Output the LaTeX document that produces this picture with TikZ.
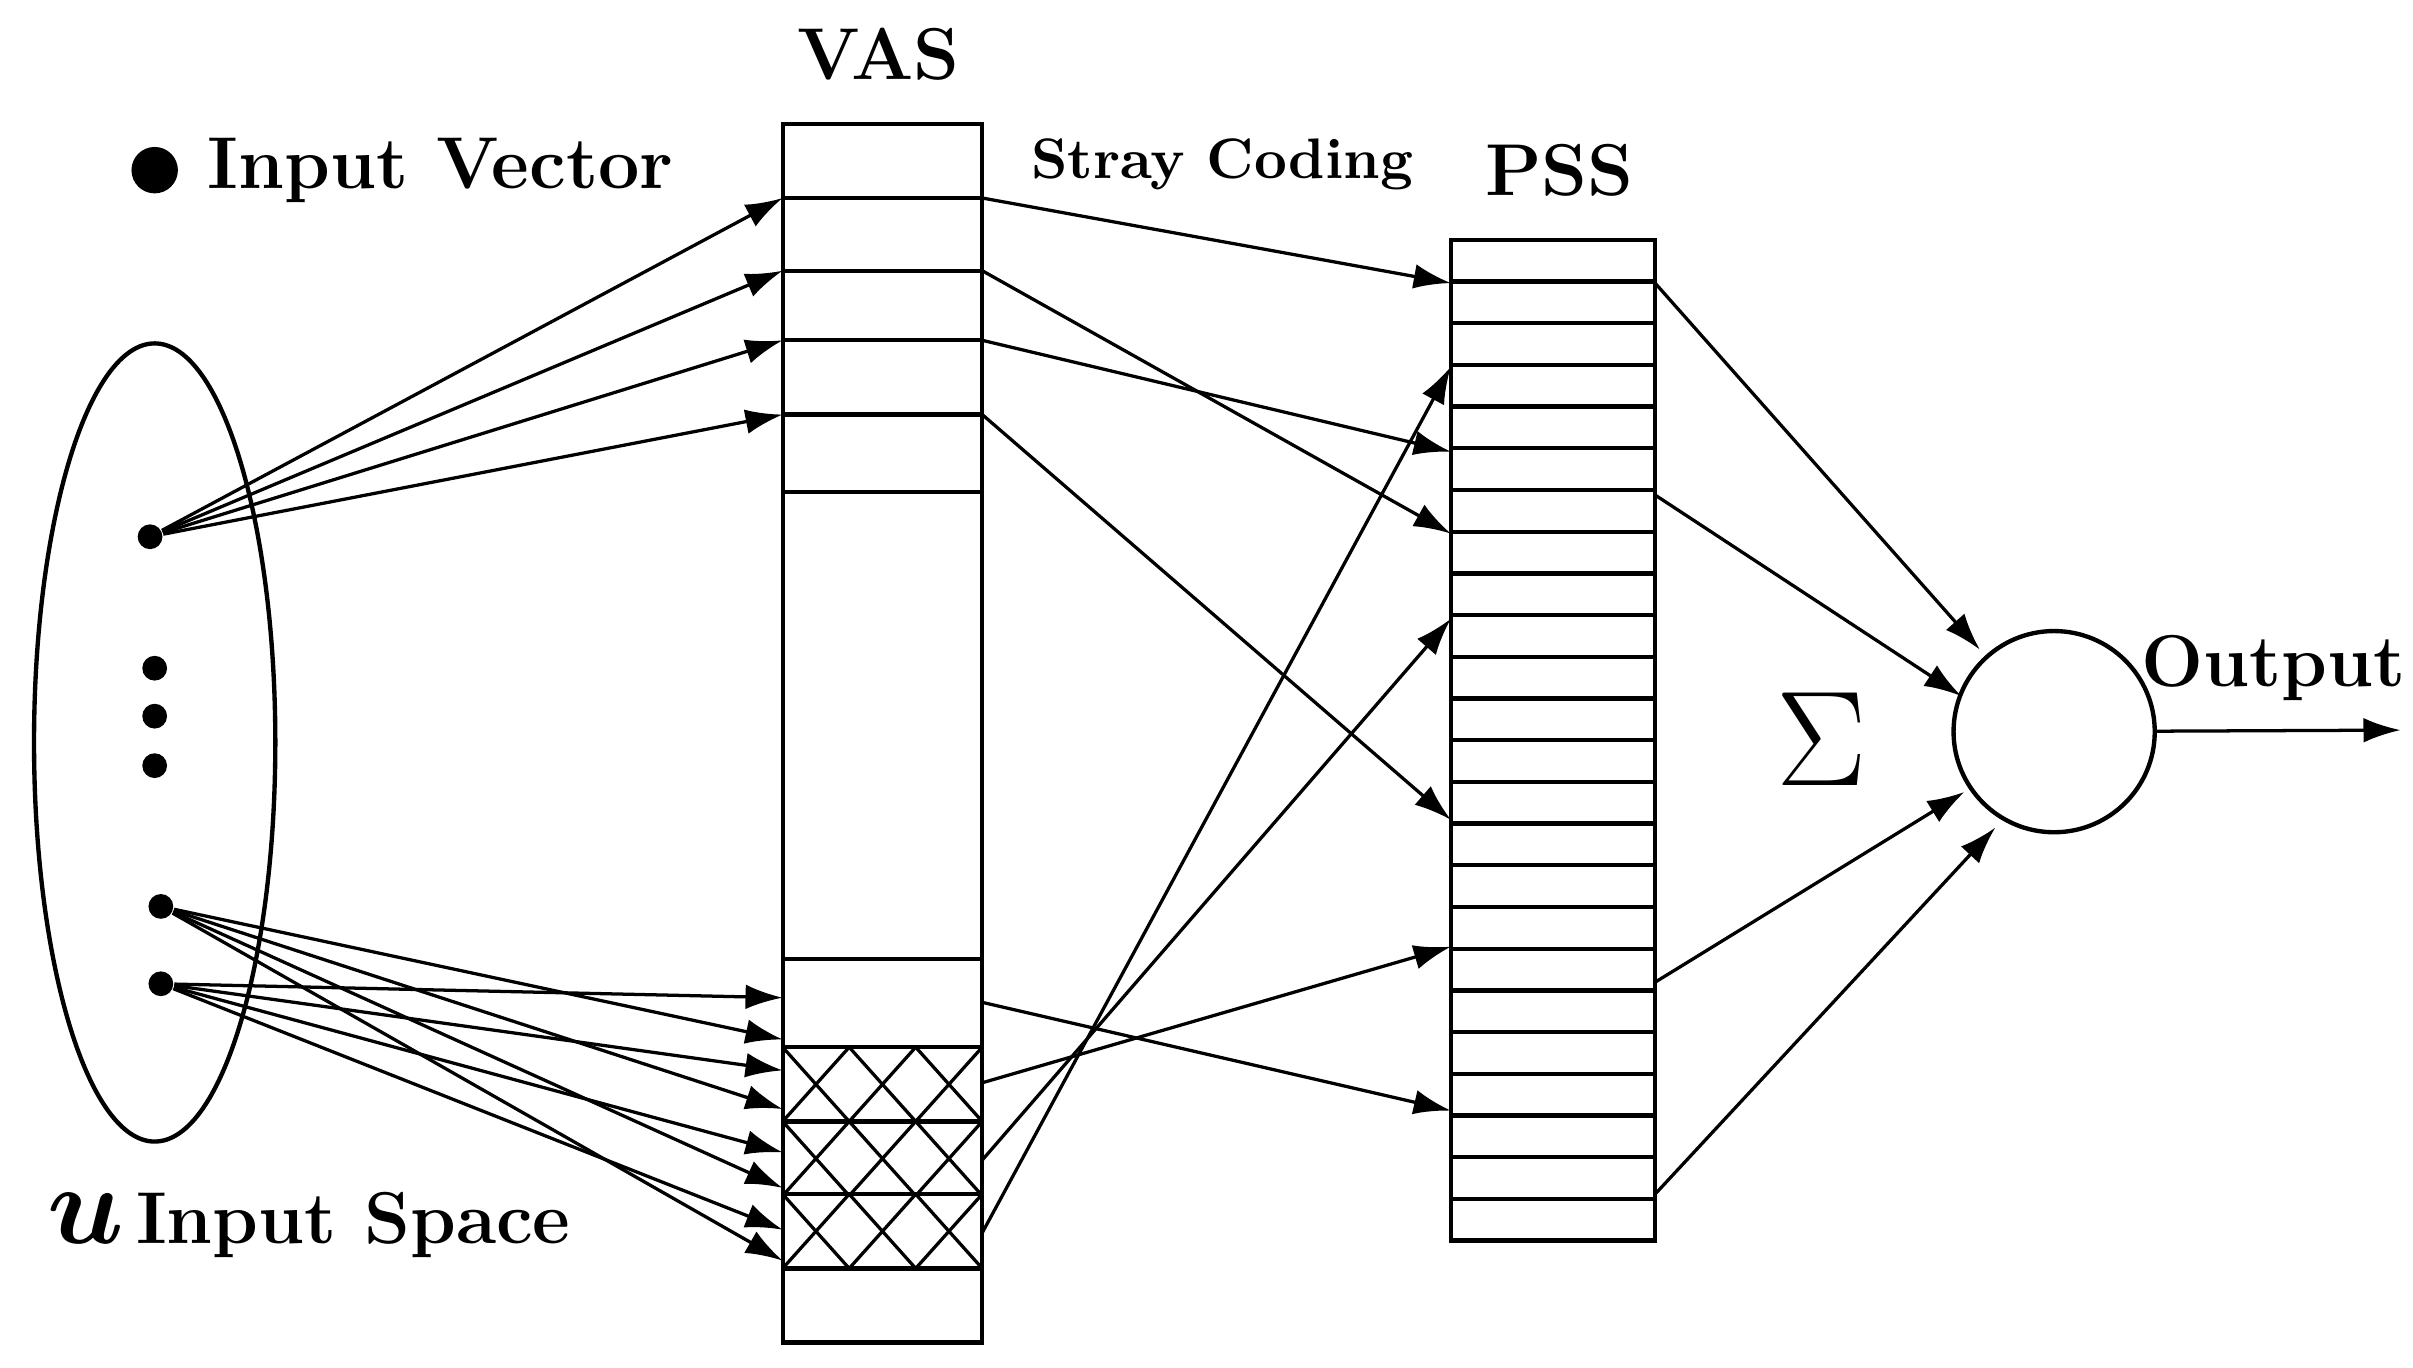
\documentclass[tikz,border=0pt]{standalone}
\usepackage{amsmath}
\usetikzlibrary{arrows.meta}
\begin{document}
\begin{tikzpicture}[x=0.01cm, y=-0.01cm,
	link/.style={-{Latex[length=2.4mm,width=1.6mm]}, semithick},
	dot/.style={circle, fill, inner sep=0pt, minimum size=1.6mm},
	lbl/.style={font=\bfseries\fontsize{13.5}{16}\selectfont}]
	\useasboundingbox (0,0) rectangle (1560,884);
	% Input space.
	\draw[thick] (100,480) ellipse (78 and 258);
	\node[dot] (u1) at (97,347) {};
	\node[dot] at (100,432) {};
	\node[dot] at (100,463) {};
	\node[dot] at (100,495) {};
	\node[dot] (u2) at (104,586) {};
	\node[dot] (u3) at (104,636) {};
	\node[dot, minimum size=3mm] (bul) at (100,110) {};
	\node[lbl, anchor=west] (iv) at (122,110) {Input Vector};
	\node[lbl, anchor=west] (is) at (18,792) {{\fontsize{20}{22}\selectfont$\boldsymbol{u}$}\,Input Space};
	% VAS.
	\draw[thick] (506,80) rectangle (635,868);
	\foreach \y in {128,175,220,268,318,620,677,725,772,820}
		\draw[thick] (506,\y) -- (635,\y);
	\foreach \y in {677,725,772}
		\foreach \x in {506,549,592}
			\draw[semithick] (\x,\y) -- (\x+43,\y+48) (\x,\y+48) -- (\x+43,\y);
	\node[lbl] (vas) at (568,35) {VAS};
	% PSS.
	\draw[thick] (938,155) rectangle (1070,802);
	\foreach \i in {1,...,23}
		\draw[thick] (938,155+\i*26.96) -- (1070,155+\i*26.96);
	\node[lbl] (pss) at (1008,110) {PSS};
	\node[font=\bfseries\fontsize{10.5}{13}\selectfont] (sc) at (790,106) {Stray Coding};
	% Sum node.
	\node[circle, draw, thick, minimum size=1.3cm] (sum) at (1328,473) {};
	\node[font=\fontsize{36}{38}\selectfont] (sig) at (1178,478) {$\Sigma$};
	\node[lbl] (out) at (1470,432) {Output};
	\coordinate (end) at (1552,472);
	\draw[link] (sum) -- (end);
	% Input to VAS.
	\foreach \y in {128,175,220,268} {
		\coordinate (v) at (506,\y);
		\draw[link] (u1) -- (v);
	}
	\foreach \y in {672,717,768,815} {
		\coordinate (v) at (506,\y);
		\draw[link] (u2) -- (v);
	}
	\foreach \y in {645,692,745,795} {
		\coordinate (v) at (506,\y);
		\draw[link] (u3) -- (v);
	}
	% VAS to PSS.
	\foreach \a/\b in {128/183,175/345,220/292,268/530,648/718,700/612,750/400,797/237} {
		\coordinate (s) at (635,\a);
		\coordinate (t) at (938,\b);
		\draw[link] (s) -- (t);
	}
	% PSS to sum.
	\foreach \a/\bx/\by in {183/1280/420,320/1268/450,635/1270/512,772/1290/535} {
		\coordinate (s) at (1070,\a);
		\coordinate (t) at (\bx,\by);
		\draw[link] (s) -- (t);
	}
\end{tikzpicture}
\end{document}
